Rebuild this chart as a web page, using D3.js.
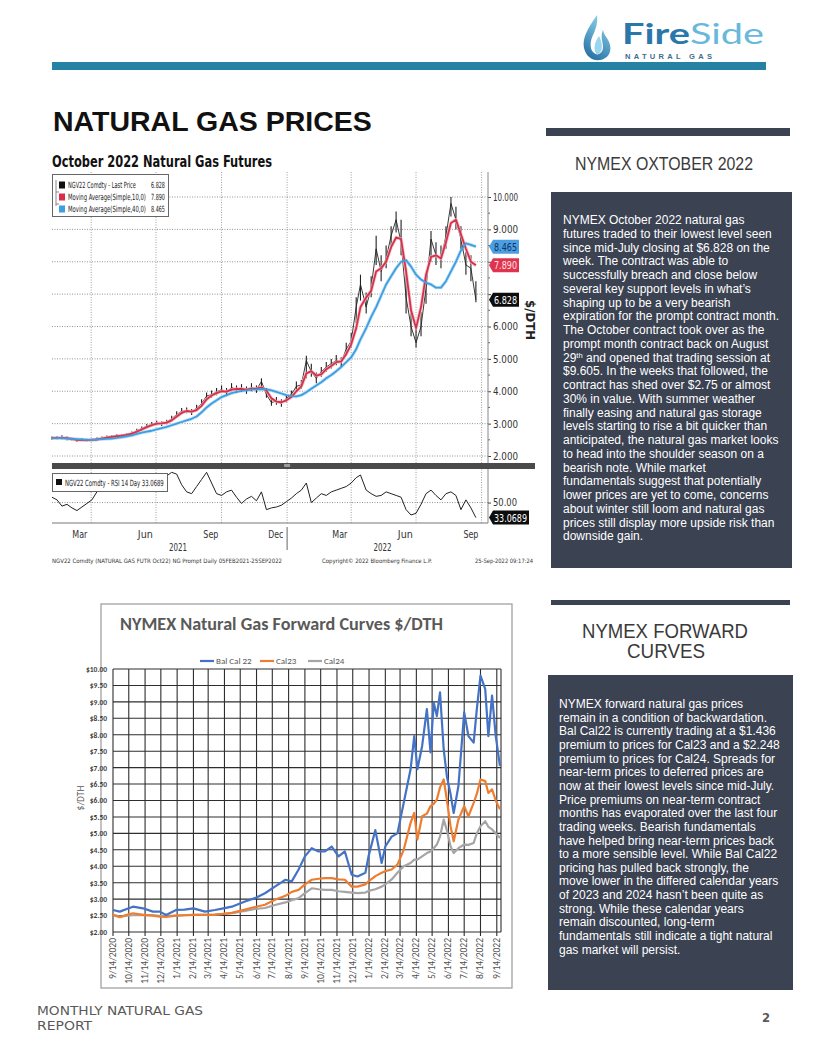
<!DOCTYPE html>
<html>
<head>
<meta charset="utf-8">
<script src="https://cdn.jsdelivr.net/npm/d3@7"></script>
<style>
  body { margin: 0; background: #fff; }
  svg { display: block; }
</style>
</head>
<body>
<svg id="page" width="816" height="1056"></svg>
<script>
// ---------- Bloomberg chart data (weekly) ----------
const bbWeeks = ["2021-02-05","2021-02-12","2021-02-19","2021-02-26","2021-03-05","2021-03-12","2021-03-19","2021-03-26",
  "2021-04-02","2021-04-09","2021-04-16","2021-04-23","2021-04-30","2021-05-07","2021-05-14","2021-05-21","2021-05-28",
  "2021-06-04","2021-06-11","2021-06-18","2021-06-25","2021-07-02","2021-07-09","2021-07-16","2021-07-23","2021-07-30",
  "2021-08-06","2021-08-13","2021-08-20","2021-08-27","2021-09-03","2021-09-10","2021-09-17","2021-09-24","2021-10-01",
  "2021-10-08","2021-10-15","2021-10-22","2021-10-29","2021-11-05","2021-11-12","2021-11-19","2021-11-26","2021-12-03",
  "2021-12-10","2021-12-17","2021-12-24","2021-12-31","2022-01-07","2022-01-14","2022-01-21","2022-01-28","2022-02-04",
  "2022-02-11","2022-02-18","2022-02-25","2022-03-04","2022-03-11","2022-03-18","2022-03-25","2022-04-01","2022-04-08",
  "2022-04-14","2022-04-22","2022-04-29","2022-05-06","2022-05-13","2022-05-20","2022-05-27","2022-06-03","2022-06-10",
  "2022-06-17","2022-06-24","2022-07-01","2022-07-08","2022-07-15","2022-07-22","2022-07-29","2022-08-05","2022-08-12",
  "2022-08-19","2022-08-26","2022-09-02","2022-09-09","2022-09-16","2022-09-23"];

const lastPrice = [2.55,2.56,2.58,2.53, 2.52,2.47,2.50,2.48, 2.50,2.52,2.55,2.58,2.60, 2.62,2.63,2.66,2.70,
  2.78,2.85,2.92,2.98, 3.02,3.00,3.05,3.15,3.28, 3.38,3.40,3.35,3.48, 3.62,3.85,3.90,3.98, 4.05,3.95,4.12,4.05,4.10,
  4.02,4.12,4.05,4.30, 3.90,3.65,3.70,3.62,3.78,
  3.90,4.15,4.20,4.95, 4.60,4.40,4.60,4.75, 4.85,4.95,4.90,5.30, 5.55,6.60,7.30,6.60,7.20, 8.40,7.70,8.10,8.80,
  9.30,8.60,6.90,6.00, 5.50,6.00,7.20,8.70,8.20, 8.10,8.80,9.80,9.30, 8.70,7.90,7.80,6.828];

const weekHigh = [2.60,2.62,2.64,2.60, 2.57,2.54,2.55,2.53, 2.54,2.57,2.60,2.63,2.65, 2.67,2.68,2.71,2.76,
  2.84,2.91,2.99,3.05, 3.09,3.07,3.12,3.24,3.38, 3.48,3.50,3.45,3.58, 3.75,3.96,4.02,4.10, 4.18,4.10,4.25,4.18,4.22,
  4.15,4.25,4.18,4.40, 4.10,3.80,3.82,3.75,3.88,
  4.02,4.30,4.35,5.10, 4.85,4.58,4.75,4.90, 5.00,5.12,5.05,5.50, 5.80,6.90,7.60,7.05,7.55, 8.80,8.20,8.50,9.10,
  9.55,9.30,7.80,6.50, 5.95,6.45,7.60,8.95,8.60, 8.50,9.10,10.00,9.70, 9.10,8.30,8.20,7.40];

const weekLow = [2.50,2.52,2.52,2.49, 2.48,2.44,2.46,2.45, 2.46,2.48,2.51,2.54,2.56, 2.58,2.59,2.61,2.65,
  2.72,2.79,2.86,2.92, 2.95,2.93,2.98,3.08,3.20, 3.30,3.32,3.27,3.40, 3.52,3.72,3.80,3.88, 3.95,3.85,4.00,3.95,3.98,
  3.92,4.00,3.95,4.10, 3.80,3.55,3.58,3.52,3.66,
  3.80,4.02,4.08,4.40, 4.45,4.25,4.45,4.60, 4.70,4.80,4.75,5.10, 5.35,6.10,6.80,6.40,6.90, 7.90,7.40,7.80,8.40,
  8.90,8.20,6.40,5.70, 5.35,5.70,6.70,8.00,7.90, 7.80,8.40,9.40,9.00, 8.40,7.60,7.40,6.75];

const ma10 = [2.55,2.56,2.56,2.55, 2.53,2.50,2.49,2.49, 2.50,2.51,2.54,2.57,2.59, 2.61,2.63,2.65,2.69,
  2.75,2.82,2.89,2.95, 3.00,3.01,3.03,3.10,3.22, 3.33,3.39,3.37,3.42, 3.55,3.75,3.87,3.94, 4.00,3.99,4.05,4.07,4.07,
  4.05,4.08,4.08,4.12, 4.02,3.78,3.68,3.66,3.72,
  3.82,4.00,4.15,4.55, 4.62,4.48,4.52,4.68, 4.78,4.90,4.92,5.15, 5.45,5.95,6.60,6.90,7.10, 7.70,7.80,8.00,8.45,
  8.75,8.70,7.70,6.50, 5.95,6.60,7.60,8.15,8.20, 8.10,8.60,9.20,9.30, 8.85,8.40,8.00,7.89];

const ma40 = [2.55,2.55,2.55,2.54, 2.53,2.52,2.51,2.50, 2.50,2.51,2.52,2.53,2.54, 2.56,2.58,2.61,2.64,
  2.68,2.72,2.75,2.78, 2.82,2.86,2.90,2.95,3.00, 3.05,3.10,3.15,3.22, 3.35,3.50,3.62,3.72, 3.82,3.88,3.94,3.98,4.01,
  4.03,4.05,4.06,4.07, 4.06,4.03,3.98,3.93,3.88,
  3.85,3.84,3.88,3.97, 4.08,4.18,4.28,4.40, 4.50,4.62,4.75,4.90, 5.05,5.30,5.60,5.95,6.30, 6.60,6.95,7.30,7.55,
  7.80,8.00,8.05,7.85, 7.60,7.45,7.35,7.30,7.20, 7.20,7.40,7.70,8.00, 8.35,8.57,8.52,8.465];

const rsi14 = [56,53,46,48, 44,41,45,49, 53,62,65,68,68, 70,73,74,75, 76,77,78,79, 80,82,80,84,82,
  70,62,60,68, 76,84,72,60, 58,62,64,56,49, 54,57,52,62, 42,44,45,47,51,
  55,60,64,72, 50,55,60,58, 62,64,66,68, 72,78,81,64,60, 57,58,62,60, 58,56,42,36,
  38,48,60,64,58, 53,60,62,58, 42,53,44,33.0689];

const priceTicks = [2,3,4,5,6,7,8,9,10];
const coveredTicks = [7,8];          // labels hidden behind the value tags
const priceMinorTicks = [2.5,3.5,4.5,5.5,6.5,7.5,8.5,9.5];
const bbGridDates = ["2021-04-01","2021-07-01","2021-10-01","2022-01-01","2022-04-01","2022-07-01","2022-10-01"];
const bbMonthLabels = ["Mar","Jun","Sep","Dec","Mar","Jun","Sep"];
const bbMonthDates = ["2021-03-16","2021-06-16","2021-09-16","2021-12-16","2022-03-16","2022-06-16","2022-09-16"];
const bbYearLabels = ["2021","2022"];
const bbYearDates = ["2021-08-01","2022-05-15"];
const bbLegend = [
  {label: "NGV22 Comdty - Last Price", value: "6.828", color: "#111"},
  {label: "Moving Average(Simple,10,0)", value: "7.890", color: "#d8304a"},
  {label: "Moving Average(Simple,40,0)", value: "8.465", color: "#3d9ee2"}
];

// ---------- Forward curve data ----------
const curveDates = ["2020-09-14","2020-09-27","2020-10-10","2020-10-22","2020-11-10","2020-11-29","2020-12-12","2020-12-24",
  "2021-01-12","2021-01-28","2021-02-14","2021-03-08","2021-03-27","2021-04-12","2021-04-28","2021-05-23","2021-06-11",
  "2021-06-30","2021-07-19","2021-08-08","2021-08-20","2021-09-02","2021-09-14","2021-09-27","2021-10-10","2021-10-22",
  "2021-11-04","2021-11-17","2021-11-29","2021-12-12","2021-12-23","2022-01-07","2022-01-13","2022-01-26","2022-02-07",
  "2022-02-14","2022-02-26","2022-03-09","2022-03-21","2022-04-03","2022-04-10","2022-04-16","2022-04-25","2022-05-04",
  "2022-05-11","2022-05-17","2022-05-23","2022-05-29","2022-06-05","2022-06-11","2022-06-18","2022-06-24","2022-07-03",
  "2022-07-14","2022-07-22","2022-08-01","2022-08-07","2022-08-14","2022-08-23","2022-08-29","2022-09-05","2022-09-12",
  "2022-09-20"];

const balCal22 = [2.67,2.62,2.70,2.77,2.72,2.62,2.62,2.52, 2.67,2.68,2.72,2.62,2.67,2.72,2.77,2.93,3.03,
  3.18,3.38,3.59,3.54,3.90,4.30,4.55,4.45,4.45, 4.60,4.30,4.45,3.74,3.69,3.80,4.30,5.10,4.10,
  4.60,4.90,5.00,5.93,6.95,7.96,6.95,7.66,8.78, 7.46,8.98,8.57,9.29,7.56,6.74,6.20,5.62,6.44,
  8.68,7.96,7.76,8.78,9.80,9.39,7.96,9.19,7.96, 7.05];
const cal23 = [2.52,2.45,2.52,2.57,2.52,2.50,2.47,2.46, 2.50,2.51,2.52,2.52,2.53,2.55,2.58,2.68,2.76,
  2.83,2.98,3.10,3.22,3.28,3.45,3.59,3.62,3.64, 3.64,3.60,3.59,3.38,3.38,3.45,3.54,3.70,3.80,
  3.85,3.90,4.05,4.50,5.32,5.62,4.81,5.52,5.60, 5.83,5.90,6.03,6.40,6.64,6.03,5.22,4.76,5.42,
  5.83,5.52,5.93,6.20,6.64,6.59,6.23,6.34,6.00, 5.73];
const cal24 = [2.52,2.47,2.50,2.51,2.52,2.51,2.49,2.48, 2.50,2.51,2.52,2.52,2.53,2.55,2.57,2.64,2.70,
  2.73,2.82,2.90,2.97,3.03,3.18,3.33,3.30,3.28, 3.28,3.24,3.22,3.20,3.18,3.20,3.25,3.30,3.38,
  3.45,3.60,3.80,4.00,4.10,4.20,4.20,4.30,4.40, 4.45,4.55,4.66,4.90,5.42,5.10,4.61,4.40,4.55,
  4.66,4.65,4.71,5.00,5.22,5.37,5.20,5.12,5.00, 4.86];

const curveSeries = [
  {name: "Bal Cal 22", values: balCal22, color: "#4472c4"},
  {name: "Cal23", values: cal23, color: "#ed7d31"},
  {name: "Cal24", values: cal24, color: "#a5a5a5"}
];
const curveTickLabels = ["9/14/2020","10/14/2020","11/14/2020","12/14/2020","1/14/2021","2/14/2021","3/14/2021",
  "4/14/2021","5/14/2021","6/14/2021","7/14/2021","8/14/2021","9/14/2021","10/14/2021","11/14/2021","12/14/2021",
  "1/14/2022","2/14/2022","3/14/2022","4/14/2022","5/14/2022","6/14/2022","7/14/2022","8/14/2022","9/14/2022"];
const curveYTicks = [2,2.5,3,3.5,4,4.5,5,5.5,6,6.5,7,7.5,8,8.5,9,9.5,10];

// ---------- Text panels ----------
const panel1Lines = [
  "NYMEX October 2022 natural gas",
  "futures traded to their lowest level seen",
  "since mid-July closing at $6.828 on the",
  "week.  The contract was able to",
  "successfully breach and close below",
  "several key support levels in what\u2019s",
  "shaping up to be a very bearish",
  "expiration for the prompt contract month.",
  "The October contract took over as the",
  "prompt month contract back on August",
  "29^th and opened that trading session at",
  "$9.605.  In the weeks that followed, the",
  "contract has shed over $2.75 or almost",
  "30% in value.  With summer weather",
  "finally easing and natural gas storage",
  "levels starting to rise a bit quicker than",
  "anticipated, the natural gas market looks",
  "to head into the shoulder season on a",
  "bearish note.  While market",
  "fundamentals suggest that potentially",
  "lower prices are yet to come, concerns",
  "about winter still loom and natural gas",
  "prices still display more upside risk than",
  "downside gain."
];
const panel2Lines = [
  "NYMEX forward natural gas prices",
  "remain in a condition of backwardation.",
  "Bal Cal22 is currently trading at a $1.436",
  "premium to prices for Cal23 and a $2.248",
  "premium to prices for Cal24.  Spreads for",
  "near-term prices to deferred prices are",
  "now at their lowest levels since mid-July.",
  "Price premiums on near-term contract",
  "months has evaporated over the last four",
  "trading weeks.  Bearish fundamentals",
  "have helped bring near-term prices back",
  "to a more sensible level.  While Bal Cal22",
  "pricing has pulled back strongly, the",
  "move lower in the differed calendar years",
  "of 2023 and 2024 hasn\u2019t been quite as",
  "strong.  While these calendar years",
  "remain discounted, long-term",
  "fundamentals still indicate a tight natural",
  "gas market will persist."
];

const parse = d3.timeParse("%Y-%m-%d");
const parseMDY = d3.timeParse("%m/%d/%Y");
const ARIAL = "'Liberation Sans', Arial, sans-serif";
const NARROW = "'Liberation Sans Narrow', 'DejaVu Sans Condensed', 'Arial Narrow', sans-serif";
const CALIBRI = "Carlito, Lato, 'Open Sans', sans-serif";

const svg = d3.select("#page");

// squeeze a text to a given width (Bloomberg uses a narrow face)
function squeeze(sel, w) {
  return sel.attr("textLength", w).attr("lengthAdjust", "spacingAndGlyphs");
}

// narrow text drawn at (x, y) and scaled horizontally so it takes w pixels
function narrowText(parent, x, y, w, size, str) {
  const g = parent.append("g");
  const t = g.append("text")
    .attr("font-family", NARROW).attr("font-size", size).attr("fill", "#222")
    .text(str);
  const natural = t.node().getComputedTextLength();
  g.attr("transform", `translate(${x},${y}) scale(${w / natural},1)`);
  return t;
}

// ================= header =================
const defs = svg.append("defs");
const grad = defs.append("linearGradient").attr("id", "flame").attr("x1", 0).attr("y1", 1).attr("x2", 0.4).attr("y2", 0);
grad.append("stop").attr("offset", "0%").attr("stop-color", "#1a679a");
grad.append("stop").attr("offset", "100%").attr("stop-color", "#86cbe8");

const logo = svg.append("g");
logo.append("path")
  .attr("d", "M597,15 C588,28 582,38 584,48 C586,57 593,61 600,60 C607,59 612,53 610,45 C609,39 604,36 603,30 C600,36 603,42 603,47 C603,53 598,56 594,53 C589,49 590,40 594,33 C596,28 598,22 597,15 Z")
  .attr("fill", "url(#flame)");
logo.append("path")
  .attr("d", "M599,36 C594,43 593,50 597,55 C602,53 604,46 599,36 Z")
  .attr("fill", "#9ad5ee");
logo.append("text")
  .attr("x", 622).attr("y", 44)
  .attr("font-family", "Lato, 'Open Sans', sans-serif").attr("font-size", 29)
  .attr("textLength", 142).attr("lengthAdjust", "spacingAndGlyphs")
  .call(t => {
    t.append("tspan").attr("fill", "#2a78aa").attr("font-weight", 700).text("Fire");
    t.append("tspan").attr("fill", "#67b8dc").attr("font-weight", 400).text("Side");
  });
logo.append("text")
  .attr("x", 625).attr("y", 59)
  .attr("font-family", ARIAL).attr("font-size", 7.5).attr("font-weight", 700)
  .attr("fill", "#3b6e8e")
  .attr("textLength", 87).attr("lengthAdjust", "spacing")
  .text("NATURAL GAS");

svg.append("rect").attr("x", 52).attr("y", 62).attr("width", 714).attr("height", 8).attr("fill", "#2682a5");

svg.append("text")
  .attr("x", 53).attr("y", 131)
  .attr("font-family", ARIAL).attr("font-size", 28.5).attr("font-weight", 700)
  .attr("fill", "#111")
  .text("NATURAL GAS PRICES");

// ================= Bloomberg chart =================
const bb = {left: 52, right: 488, top: 172, mainBottom: 463, rsiTop: 469, rsiBottom: 523};
const bx = d3.scaleTime().domain([parse("2021-02-05"), parse("2022-10-10")]).range([bb.left, bb.right]);
const by = d3.scaleLinear().domain([2, 10]).range([456, 197]);
const br = d3.scaleLinear().domain([27, 90]).range([523, 467]);

const bbg = svg.append("g");

bbg.append("text")
  .attr("x", 52).attr("y", 167)
  .attr("font-family", NARROW).attr("font-size", 16).attr("font-weight", 700)
  .attr("fill", "#111")
  .call(squeeze, 220)
  .text("October 2022 Natural Gas Futures");

// grid
bbg.selectAll(".hgrid").data(priceTicks).join("line")
  .attr("x1", bb.left).attr("x2", bb.right)
  .attr("y1", d => by(d)).attr("y2", d => by(d))
  .attr("stroke", "#777").attr("stroke-width", 0.8).attr("stroke-dasharray", "1,1.5");
bbg.selectAll(".vgrid").data(bbGridDates).join("line")
  .attr("x1", d => bx(parse(d))).attr("x2", d => bx(parse(d)))
  .attr("y1", bb.top).attr("y2", bb.rsiBottom)
  .attr("stroke", "#888").attr("stroke-width", 0.8).attr("stroke-dasharray", "1,1.5");
bbg.append("line")
  .attr("x1", bb.left).attr("x2", bb.right)
  .attr("y1", br(50)).attr("y2", br(50))
  .attr("stroke", "#777").attr("stroke-width", 0.8).attr("stroke-dasharray", "1,1.5");

// right axis
const fmt3 = d3.format(".3f");
const rightAxis = d3.axisRight(by).tickValues(priceTicks)
  .tickFormat(d => coveredTicks.includes(d) ? "" : fmt3(d))
  .tickSize(3).tickPadding(2);
const rax = bbg.append("g").attr("transform", `translate(${bb.right},0)`).call(rightAxis);
rax.select(".domain").remove();
rax.selectAll("line").attr("stroke", "#444");
rax.selectAll("text").filter(d => !coveredTicks.includes(d))
  .attr("font-family", NARROW).attr("font-size", 10.5).attr("fill", "#333")
  .attr("textLength", 25).attr("lengthAdjust", "spacingAndGlyphs");
bbg.selectAll(".minor").data(priceMinorTicks).join("line")
  .attr("x1", bb.right).attr("x2", bb.right + 2)
  .attr("y1", d => by(d)).attr("y2", d => by(d))
  .attr("stroke", "#666");
bbg.append("line").attr("x1", bb.right).attr("x2", bb.right).attr("y1", bb.top).attr("y2", bb.mainBottom).attr("stroke", "#888");
bbg.append("line").attr("x1", bb.right).attr("x2", bb.right).attr("y1", bb.rsiTop).attr("y2", bb.rsiBottom).attr("stroke", "#888");

const rsiAxis = d3.axisRight(br).tickValues([50]).tickFormat(d3.format(".2f")).tickSize(3).tickPadding(2);
const rrx = bbg.append("g").attr("transform", `translate(${bb.right},0)`).call(rsiAxis);
rrx.select(".domain").remove();
rrx.selectAll("line").attr("stroke", "#444");
rrx.selectAll("text").attr("font-family", NARROW).attr("font-size", 10.5).attr("fill", "#333")
  .attr("textLength", 24).attr("lengthAdjust", "spacingAndGlyphs");

// series
const bbLine = (vals, scale) => d3.line()
  .x((d, i) => bx(parse(bbWeeks[i])))
  .y(d => scale(d))(vals);

bbg.append("path").attr("d", bbLine(ma40, by)).attr("fill", "none")
  .attr("stroke", "#bfe0f7").attr("stroke-width", 3.4).attr("stroke-linejoin", "round");
// weekly high-low bars of the last price
bbg.selectAll(".hl").data(bbWeeks).join("line")
  .attr("x1", d => bx(parse(d))).attr("x2", d => bx(parse(d)))
  .attr("y1", (d, i) => by(weekHigh[i])).attr("y2", (d, i) => by(weekLow[i]))
  .attr("stroke", "#222").attr("stroke-width", 1.1);
bbg.append("path").attr("d", bbLine(lastPrice, by)).attr("fill", "none")
  .attr("stroke", "#222").attr("stroke-width", 0.9).attr("stroke-linejoin", "round");
bbg.append("path").attr("d", bbLine(ma10, by)).attr("fill", "none")
  .attr("stroke", "#f2b6c0").attr("stroke-width", 3.4).attr("stroke-linejoin", "round").attr("opacity", 0.8);
bbg.append("path").attr("d", bbLine(ma10, by)).attr("fill", "none")
  .attr("stroke", "#d8304a").attr("stroke-width", 1.8).attr("stroke-linejoin", "round");
bbg.append("path").attr("d", bbLine(ma40, by)).attr("fill", "none")
  .attr("stroke", "#3d9ee2").attr("stroke-width", 1.8).attr("stroke-linejoin", "round");

bbg.append("path").attr("d", bbLine(rsi14, br)).attr("fill", "none")
  .attr("stroke", "#222").attr("stroke-width", 1).attr("stroke-linejoin", "round");

// separator band between price and RSI panels
bbg.append("rect").attr("x", bb.left).attr("y", bb.mainBottom).attr("width", 483).attr("height", 6).attr("fill", "#4a4a4a");
bbg.append("rect").attr("x", bx(parse("2022-01-01")) - 3).attr("y", bb.mainBottom + 1).attr("width", 6).attr("height", 3).attr("fill", "#9a9a9a");

// bottom axis
bbg.append("line").attr("x1", bb.left).attr("x2", bb.right).attr("y1", bb.rsiBottom).attr("y2", bb.rsiBottom).attr("stroke", "#777");
bbg.selectAll(".mlab").data(bbMonthLabels).join("text")
  .attr("x", (d, i) => bx(parse(bbMonthDates[i])))
  .attr("y", 538)
  .attr("text-anchor", "middle")
  .attr("font-family", NARROW).attr("font-size", 11).attr("fill", "#333")
  .call(squeeze, 15)
  .text(d => d);
bbg.selectAll(".ylab").data(bbYearLabels).join("text")
  .attr("x", (d, i) => bx(parse(bbYearDates[i])))
  .attr("y", 551)
  .attr("text-anchor", "middle")
  .attr("font-family", NARROW).attr("font-size", 11).attr("fill", "#333")
  .call(squeeze, 18)
  .text(d => d);
bbg.append("line")
  .attr("x1", bx(parse("2022-01-01"))).attr("x2", bx(parse("2022-01-01")))
  .attr("y1", 527).attr("y2", 550).attr("stroke", "#666");

// legend (price panel)
const leg = bbg.append("g");
leg.append("rect").attr("x", 52.5).attr("y", 174.5).attr("width", 116).attr("height", 42)
  .attr("fill", "#fff").attr("stroke", "#666");
leg.append("path").attr("d", "M56,180 V206 M56,192 H59 M56,204 H59").attr("stroke", "#888").attr("fill", "none");
const legW = [68, 78, 78];
bbLegend.forEach((d, i) => {
  const yy = 185 + i * 12;
  leg.append("rect").attr("x", 59).attr("y", yy - 3.5).attr("width", 6).attr("height", 7).attr("fill", d.color);
  narrowText(leg, 68, yy + 3, legW[i], 8.5, d.label);
  narrowText(leg, 151, yy + 3, 14, 8.5, d.value);
});

// legend (RSI panel)
bbg.append("rect").attr("x", 52.5).attr("y", 473.5).attr("width", 115).attr("height", 18)
  .attr("fill", "#fff").attr("stroke", "#666");
bbg.append("rect").attr("x", 56).attr("y", 479).attr("width", 6).attr("height", 6).attr("fill", "#111");
narrowText(bbg, 65, 485.5, 99, 8.5, "NGV22 Comdty - RSI 14 Day 33.0689");

// value tags on the right axis
function tag(yc, label, fill, color, w) {
  const x0 = bb.right + 1, h = 7;
  bbg.append("path")
    .attr("d", `M${x0},${yc} L${x0 + 4},${yc - h} H${x0 + w} V${yc + h} H${x0 + 4} Z`)
    .attr("fill", fill);
  bbg.append("text").attr("x", x0 + 5).attr("y", yc + 4)
    .attr("font-family", NARROW).attr("font-size", 11).attr("fill", color)
    .call(squeeze, w - 7)
    .text(label);
}
tag(by(8.465), "8.465", "#4a9fe2", "#12315f", 30);
tag(by(7.890), "7.890", "#e0344e", "#fde3e8", 30);
tag(by(6.828), "6.828", "#0d0d0d", "#fff", 30);
tag(br(33.0689), "33.0689", "#0d0d0d", "#fff", 40);

bbg.append("text")
  .attr("transform", "translate(526,320) rotate(90)")
  .attr("text-anchor", "middle")
  .attr("font-family", NARROW).attr("font-size", 12.5).attr("font-weight", 700).attr("fill", "#222")
  .call(squeeze, 40)
  .text("$/DTH");

// source line
const src = bbg.append("g").attr("font-family", NARROW).attr("font-size", 6).attr("fill", "#333");
src.append("text").attr("x", 52).attr("y", 563).call(squeeze, 230)
  .text("NGV22 Comdty (NATURAL GAS FUTR  Oct22) NG Prompt  Daily 05FEB2021-25SEP2022");
src.append("text").attr("x", 322).attr("y", 563).call(squeeze, 110)
  .text("Copyright\u00a9 2022 Bloomberg Finance L.P.");
src.append("text").attr("x", 475).attr("y", 563).call(squeeze, 58)
  .text("25-Sep-2022 09:17:24");

// ================= right column =================
const DARK = "#3b4252";
svg.append("rect").attr("x", 546).attr("y", 128).attr("width", 244).attr("height", 8).attr("fill", DARK);
svg.append("text").attr("x", 664).attr("y", 170).attr("text-anchor", "middle")
  .attr("font-family", ARIAL).attr("font-size", 17.5).attr("fill", "#3a3a3a")
  .call(squeeze, 178)
  .text("NYMEX OXTOBER 2022");
svg.append("rect").attr("x", 551).attr("y", 192).attr("width", 241).attr("height", 376).attr("fill", DARK);

function writeLines(lines, x, y0, lh) {
  const t = svg.append("text")
    .attr("font-family", ARIAL).attr("font-size", 12).attr("fill", "#fff");
  lines.forEach((line, i) => {
    const tl = t.append("tspan").attr("x", x).attr("y", y0 + i * lh);
    if (line.includes("^")) {
      const [a, rest] = line.split("^");
      tl.append("tspan").text(a);
      tl.append("tspan").attr("font-size", 7.5).attr("dy", -4).text(rest.slice(0, 2));
      tl.append("tspan").attr("dy", 4).text(rest.slice(2));
    } else {
      tl.text(line);
    }
  });
}
writeLines(panel1Lines, 563, 224, 13.75);

svg.append("rect").attr("x", 551).attr("y", 600).attr("width", 239).attr("height", 5).attr("fill", DARK);
svg.append("text").attr("x", 665).attr("y", 638).attr("text-anchor", "middle")
  .attr("font-family", ARIAL).attr("font-size", 20).attr("fill", "#3a3a3a")
  .call(squeeze, 166)
  .text("NYMEX FORWARD");
svg.append("text").attr("x", 666).attr("y", 658).attr("text-anchor", "middle")
  .attr("font-family", ARIAL).attr("font-size", 20).attr("fill", "#3a3a3a")
  .call(squeeze, 78)
  .text("CURVES");
svg.append("rect").attr("x", 548).attr("y", 675).attr("width", 245).attr("height", 315).attr("fill", DARK);
writeLines(panel2Lines, 559, 708, 13.65);

// ================= forward curves chart =================
const fc = {left: 113, right: 501, top: 669, bottom: 932};
const fx = d3.scaleTime().domain([parse("2020-09-14"), parse("2022-09-22")]).range([fc.left, fc.right]);
const fy = d3.scaleLinear().domain([2, 10]).range([fc.bottom, fc.top]);
const fcg = svg.append("g");

fcg.append("rect").attr("x", 101).attr("y", 604).attr("width", 411).attr("height", 384)
  .attr("fill", "#fff").attr("stroke", "#9a9a9a").attr("stroke-width", 1.2);

fcg.append("text").attr("x", 120).attr("y", 630)
  .attr("font-family", CALIBRI).attr("font-size", 17).attr("font-weight", 700).attr("fill", "#595959")
  .call(squeeze, 323)
  .text("NYMEX Natural Gas Forward Curves $/DTH");

// legend
const legX = [200, 260, 308];
curveSeries.forEach((s, i) => {
  fcg.append("line").attr("x1", legX[i]).attr("x2", legX[i] + 14).attr("y1", 661).attr("y2", 661)
    .attr("stroke", s.color).attr("stroke-width", 2.2);
  fcg.append("text").attr("x", legX[i] + 16).attr("y", 664)
    .attr("font-family", CALIBRI).attr("font-size", 9).attr("fill", "#595959")
    .text(s.name);
});

// grid
const curveTicks = curveTickLabels.map(parseMDY);
fcg.selectAll(".fh").data(curveYTicks).join("line")
  .attr("x1", fc.left).attr("x2", fc.right)
  .attr("y1", d => fy(d)).attr("y2", d => fy(d))
  .attr("stroke", "#2e2e2e").attr("stroke-width", 1.1);
fcg.selectAll(".fv").data(curveTicks).join("line")
  .attr("x1", d => fx(d)).attr("x2", d => fx(d))
  .attr("y1", fc.top).attr("y2", fc.bottom + 4)
  .attr("stroke", "#2e2e2e").attr("stroke-width", 1.1);
fcg.append("line").attr("x1", fc.right).attr("x2", fc.right).attr("y1", fc.top).attr("y2", fc.bottom)
  .attr("stroke", "#2e2e2e").attr("stroke-width", 1.1);

// axes labels
const yAx = d3.axisLeft(fy).tickValues(curveYTicks).tickFormat(d3.format("$.2f")).tickSize(0).tickPadding(6);
const yg = fcg.append("g").attr("transform", `translate(${fc.left},0)`).call(yAx);
yg.select(".domain").remove();
yg.selectAll("text").attr("font-family", CALIBRI).attr("font-size", 7.5).attr("font-weight", 700).attr("fill", "#3f3f3f");

fcg.selectAll(".xl").data(curveTickLabels).join("text")
  .attr("transform", (d, i) => `translate(${fx(curveTicks[i]) + 3},${fc.bottom + 6}) rotate(-90)`)
  .attr("text-anchor", "end")
  .attr("font-family", CALIBRI).attr("font-size", 9.5).attr("fill", "#505050")
  .text(d => d);

fcg.append("text")
  .attr("transform", "translate(84,798) rotate(-90)")
  .attr("text-anchor", "middle")
  .attr("font-family", CALIBRI).attr("font-size", 9.5).attr("fill", "#595959")
  .text("$/DTH");

// series (Cal24 first so Bal Cal 22 sits on top)
const fLine = d3.line().x((d, i) => fx(parse(curveDates[i]))).y(d => fy(d));
curveSeries.slice().reverse().forEach(s => {
  fcg.append("path").attr("d", fLine(s.values)).attr("fill", "none")
    .attr("stroke", s.color).attr("stroke-width", 2.2).attr("stroke-linejoin", "round");
});

// ================= footer =================
svg.append("text").attr("x", 37).attr("y", 1015)
  .attr("font-family", NARROW).attr("font-size", 13).attr("fill", "#595959")
  .call(squeeze, 166)
  .text("MONTHLY NATURAL GAS");
svg.append("text").attr("x", 37).attr("y", 1030)
  .attr("font-family", NARROW).attr("font-size", 13).attr("fill", "#595959")
  .call(squeeze, 55)
  .text("REPORT");
svg.append("text").attr("x", 762).attr("y", 1022)
  .attr("font-family", NARROW).attr("font-size", 13).attr("font-weight", 700).attr("fill", "#595959")
  .text("2");
</script>
</body>
</html>
